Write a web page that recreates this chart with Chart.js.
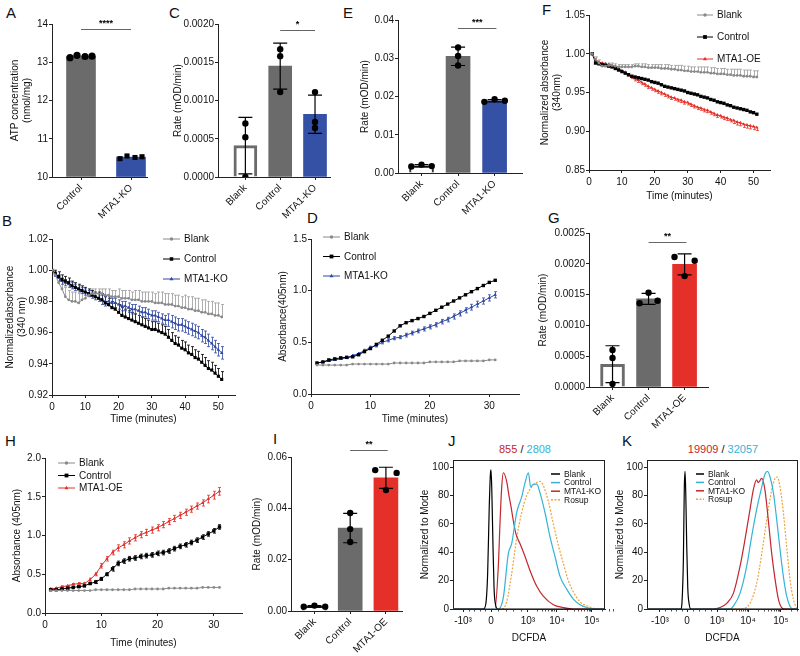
<!DOCTYPE html>
<html>
<head>
<meta charset="utf-8">
<script src="https://cdn.jsdelivr.net/npm/chart.js@4.4.1/dist/chart.umd.min.js"></script>
<style>
  body { margin:0; width:800px; height:656px; position:relative; overflow:hidden; background:#fff; font-family:"Liberation Sans", Arial, sans-serif; }
  canvas { position:absolute; }
  .tag { position:absolute; font-size:15px; line-height:15px; color:#111; }
  .ttl { position:absolute; font-size:11px; line-height:12px; width:160px; text-align:center; color:#111; }
</style>
</head>
<body>
<div class="tag" style="left:6px;top:5px">A</div>
<div class="tag" style="left:169px;top:5px">C</div>
<div class="tag" style="left:343px;top:5px">E</div>
<div class="tag" style="left:542px;top:2px">F</div>
<div class="tag" style="left:2px;top:213px">B</div>
<div class="tag" style="left:307px;top:210px">D</div>
<div class="tag" style="left:548px;top:210px">G</div>
<div class="tag" style="left:5px;top:433px">H</div>
<div class="tag" style="left:273px;top:431px">I</div>
<div class="tag" style="left:448px;top:433px">J</div>
<div class="tag" style="left:622px;top:433px">K</div>
<div class="ttl" style="left:445px;top:443px"><span style="color:#c1272d">855</span> / <span style="color:#34b3d6">2808</span></div>
<div class="ttl" style="left:643px;top:443px"><span style="color:#c1272d">19909</span> / <span style="color:#34b3d6">32057</span></div>
<script>
// ---- data ----
// A: ATP concentration
const catsA = ['Control', 'MTA1-KO'];
const meanA = [13.15, 10.52];
const dotsA = [[13.12, 13.18, 13.15, 13.16], [10.48, 10.55, 10.51, 10.53]];

// C: rate, KO
const catsC = ['Blank', 'Control', 'MTA1-KO'];
const meanC = [0.00041, 0.00145, 0.00082];
const sdC = [0.00037, 0.0003, 0.00025];
const dotsC = [[0.0007, 0.00052, 0.0], [0.00167, 0.00158, 0.00111], [0.00111, 0.00072, 0.00064]];

// E: rate, KO
const meanE = [0.0019, 0.0305, 0.0189];
const sdE = [0.0003, 0.0024, 0.0003];
const dotsE = [[0.0017, 0.0022, 0.0018], [0.0328, 0.0306, 0.0281], [0.0186, 0.0193, 0.0189]];

// G: rate, OE
const catsG = ['Blank', 'Control', 'MTA1-OE'];
const meanG = [0.00037, 0.00143, 0.00199];
const sdG = [0.0003, 0.00009, 0.00017];
const dotsG = [[0.0006, 0.00047, 0.00005], [0.00136, 0.00153, 0.0014], [0.00211, 0.0018, 0.00205]];

// I: rate, OE
const meanI = [0.0018, 0.0323, 0.0519];
const sdI = [0.0003, 0.0057, 0.0041];
const dotsI = [[0.0017, 0.0021, 0.0017], [0.0382, 0.0319, 0.0269], [0.0549, 0.0471, 0.0538]];

// B: normalized absorbance 340 nm, KO (t = 0..51)
const timeB = [0,1,2,3,4,5,6,7,8,9,10,11,12,13,14,15,16,17,18,19,20,21,22,23,24,25,26,27,28,29,30,31,32,33,34,35,36,37,38,39,40,41,42,43,44,45,46,47,48,49,50,51];
const blankB = [1.000,0.997,0.992,0.988,0.983,0.981,0.980,0.980,0.979,0.981,
  0.982,0.984,0.985,0.985,0.985,0.985,0.984,0.984,0.983,0.983,
  0.983,0.982,0.982,0.982,0.981,0.981,0.981,0.980,0.980,0.980,
  0.980,0.979,0.979,0.979,0.978,0.978,0.978,0.977,0.977,0.976,
  0.976,0.975,0.975,0.974,0.974,0.973,0.973,0.972,0.972,0.971,
  0.971,0.970];
const blankErrB = [0,0.002,0.004,0.005,0.006,0.006,0.006,0.006,0.006,0.005,
  0.004,0.003,0.003,0.003,0.003,0.003,0.004,0.004,0.004,0.004,
  0.005,0.005,0.005,0.005,0.005,0.006,0.006,0.006,0.006,0.006,
  0.006,0.006,0.007,0.007,0.007,0.007,0.007,0.007,0.007,0.007,
  0.008,0.008,0.008,0.008,0.008,0.008,0.008,0.008,0.008,0.008,
  0.008,0.008];
const ctrlB = [1.000,0.998,0.996,0.994,0.993,0.992,0.990,0.989,0.988,0.987,
  0.986,0.985,0.984,0.983,0.982,0.981,0.979,0.978,0.976,0.975,
  0.973,0.971,0.970,0.969,0.968,0.967,0.966,0.965,0.964,0.963,
  0.962,0.962,0.961,0.960,0.959,0.957,0.955,0.953,0.952,0.950,
  0.949,0.947,0.946,0.944,0.943,0.941,0.939,0.937,0.936,0.934,
  0.932,0.930];
const ctrlErrB = [0,0.002,0.003,0.003,0.003,0.003,0.003,0.003,0.003,0.003,
  0.003,0.003,0.003,0.003,0.004,0.004,0.004,0.004,0.004,0.004,
  0.005,0.005,0.005,0.005,0.005,0.005,0.005,0.005,0.005,0.005,
  0.005,0.005,0.005,0.005,0.005,0.005,0.005,0.005,0.005,0.005,
  0.005,0.005,0.005,0.005,0.005,0.005,0.005,0.005,0.005,0.005,
  0.005,0.005];
const koB = [1.000,0.997,0.995,0.993,0.992,0.991,0.990,0.989,0.988,0.987,
  0.986,0.985,0.984,0.983,0.982,0.981,0.980,0.980,0.979,0.979,
  0.978,0.977,0.977,0.976,0.975,0.975,0.974,0.973,0.973,0.972,
  0.971,0.971,0.970,0.969,0.968,0.968,0.967,0.966,0.965,0.965,
  0.964,0.963,0.962,0.961,0.960,0.958,0.957,0.955,0.953,0.951,
  0.949,0.947];
const koErrB = [0,0.001,0.002,0.002,0.002,0.002,0.002,0.002,0.002,0.002,
  0.002,0.002,0.002,0.002,0.002,0.003,0.003,0.003,0.003,0.003,
  0.003,0.003,0.003,0.003,0.003,0.003,0.003,0.003,0.003,0.003,
  0.003,0.003,0.003,0.003,0.003,0.004,0.004,0.004,0.004,0.004,
  0.004,0.004,0.004,0.004,0.004,0.004,0.004,0.004,0.004,0.004,
  0.004,0.004];

// F: normalized absorbance 340 nm, OE (t = 1..51)
const timeF = [1,2,3,4,5,6,7,8,9,10,11,12,13,14,15,16,17,18,19,20,21,22,23,24,25,26,27,28,29,30,31,32,33,34,35,36,37,38,39,40,41,42,43,44,45,46,47,48,49,50,51];
const blankF = [1.000,0.993,0.988,0.984,0.984,0.985,0.985,0.984,0.983,0.983,
  0.983,0.983,0.983,0.984,0.984,0.983,0.983,0.982,0.982,0.982,
  0.982,0.981,0.981,0.981,0.980,0.980,0.979,0.979,0.978,0.978,
  0.977,0.977,0.977,0.976,0.976,0.976,0.975,0.975,0.974,0.974,
  0.974,0.973,0.973,0.972,0.972,0.972,0.971,0.971,0.971,0.970,
  0.970];
const blankErrF = [0,0.003,0.004,0.004,0.004,0.003,0.003,0.003,0.003,0.003,
  0.003,0.003,0.003,0.003,0.003,0.004,0.004,0.004,0.004,0.004,
  0.004,0.005,0.005,0.005,0.005,0.005,0.006,0.006,0.006,0.006,
  0.006,0.006,0.006,0.007,0.007,0.007,0.007,0.007,0.007,0.007,
  0.007,0.007,0.007,0.008,0.008,0.008,0.008,0.008,0.008,0.008,
  0.008];
const ctrlF = [1.000,0.988,0.987,0.986,0.985,0.984,0.983,0.981,0.979,0.977,
  0.975,0.973,0.971,0.970,0.969,0.968,0.967,0.966,0.964,0.963,
  0.962,0.960,0.958,0.957,0.956,0.955,0.954,0.953,0.952,0.950,
  0.949,0.948,0.947,0.945,0.944,0.943,0.941,0.940,0.938,0.937,
  0.936,0.934,0.933,0.931,0.930,0.929,0.928,0.927,0.925,0.924,
  0.922];
const oeF = [1.000,0.992,0.989,0.988,0.987,0.986,0.985,0.983,0.981,0.978,
  0.976,0.973,0.970,0.968,0.966,0.963,0.961,0.958,0.956,0.954,
  0.952,0.950,0.948,0.946,0.944,0.943,0.941,0.940,0.938,0.937,
  0.935,0.933,0.931,0.930,0.928,0.927,0.925,0.923,0.921,0.920,
  0.918,0.917,0.915,0.914,0.912,0.911,0.909,0.908,0.907,0.906,
  0.905];
const oeErrF = [0,0.001,0.001,0.001,0.002,0.002,0.002,0.002,0.002,0.002,
  0.002,0.002,0.002,0.003,0.003,0.003,0.003,0.003,0.003,0.003,
  0.003,0.003,0.003,0.003,0.003,0.003,0.003,0.003,0.003,0.003,
  0.003,0.003,0.003,0.003,0.003,0.003,0.003,0.003,0.003,0.003,
  0.003,0.003,0.003,0.004,0.004,0.004,0.004,0.004,0.004,0.004,
  0.004];

// D: absorbance 405 nm, KO (t = 1..31)
const timeD = [1,2,3,4,5,6,7,8,9,10,11,12,13,14,15,16,17,18,19,20,21,22,23,24,25,26,27,28,29,30,31];
const blankD = [0.28,0.28,0.28,0.28,0.28,0.28,0.29,0.29,0.29,0.29,
  0.29,0.29,0.29,0.30,0.30,0.30,0.30,0.30,0.30,0.31,
  0.31,0.31,0.31,0.31,0.32,0.32,0.32,0.32,0.32,0.33,0.33];
const ctrlD = [0.30,0.31,0.33,0.34,0.35,0.355,0.36,0.38,0.41,0.44,
  0.48,0.52,0.56,0.61,0.66,0.69,0.71,0.73,0.75,0.78,
  0.81,0.84,0.87,0.90,0.93,0.96,0.99,1.02,1.05,1.08,1.10];
const koD = [0.30,0.31,0.32,0.33,0.34,0.35,0.37,0.39,0.42,0.45,
  0.47,0.50,0.52,0.54,0.55,0.57,0.59,0.61,0.63,0.65,
  0.67,0.70,0.72,0.75,0.78,0.81,0.84,0.87,0.90,0.93,0.96];
const koErrD = [0.005,0.005,0.005,0.005,0.005,0.008,0.01,0.01,0.012,0.012,
  0.015,0.015,0.015,0.015,0.015,0.018,0.018,0.018,0.02,0.02,
  0.02,0.022,0.022,0.025,0.025,0.025,0.028,0.028,0.03,0.03,0.03];

// H: absorbance 405 nm, OE (t = 1..31)
const timeH = timeD;
const blankH = [0.29,0.29,0.29,0.29,0.29,0.29,0.29,0.29,0.30,0.30,
  0.30,0.30,0.30,0.30,0.30,0.31,0.31,0.31,0.31,0.31,
  0.31,0.32,0.32,0.32,0.32,0.32,0.32,0.33,0.33,0.33,0.33];
const ctrlH = [0.30,0.30,0.31,0.32,0.33,0.34,0.35,0.38,0.40,0.44,
  0.50,0.57,0.64,0.67,0.70,0.71,0.73,0.74,0.75,0.77,
  0.78,0.80,0.83,0.86,0.88,0.91,0.94,0.98,1.02,1.06,1.11];
const ctrlErrH = [0.01,0.01,0.01,0.01,0.01,0.01,0.01,0.01,0.02,0.02,
  0.02,0.03,0.03,0.03,0.03,0.03,0.03,0.03,0.03,0.03,
  0.03,0.03,0.03,0.03,0.03,0.03,0.03,0.03,0.03,0.03,0.03];
const oeH = [0.31,0.32,0.34,0.35,0.37,0.38,0.38,0.43,0.50,0.61,
  0.70,0.78,0.84,0.88,0.93,0.97,1.01,1.04,1.07,1.10,
  1.14,1.18,1.22,1.26,1.30,1.34,1.38,1.42,1.47,1.52,1.57];
const oeErrH = [0.01,0.01,0.01,0.01,0.01,0.01,0.01,0.02,0.02,0.03,
  0.03,0.03,0.04,0.04,0.04,0.04,0.04,0.04,0.04,0.04,
  0.04,0.04,0.04,0.04,0.04,0.04,0.04,0.04,0.05,0.05,0.05];

// J / K: DCFDA histograms (x in display channel units 0..1000)
const tickLab = ['-10\u00B3', '0', '10\u00B3', '10\u2074', '10\u2075'];
const tickPosJ = [66, 250, 493, 684, 914];
const tickPosK = [86, 265, 464, 669, 887];
const jBlankX = [0,200,215,228,238,246,250,255,262,270,280,295,1000];
const jBlankY = [0,0,3,25,70,95,98,85,50,15,3,0,0];
const jKoX = [0,270,276,298,309,320,331,353,368,382,397,414,441,474,507,551,594,660,726,790,1000];
const jKoY = [0,0,0,30,60,85,96,90,80,72,62,53,46,37,27,16,9,3,1,0,0];
const jCtrlX = [0,298,331,364,386,419,452,474,496,511,529,551,572,605,638,671,704,748,792,836,880,923,1000];
const jCtrlY = [0,0,8,39,46,68,79,89,96,86,88,88,82,68,51,37,23,14,7,3,1,0,0];
const jRosX = [0,320,353,386,419,452,485,518,551,572,594,627,660,693,726,759,792,836,890,945,1000];
const jRosY = [0,0,5,25,50,68,80,86,89,90,87,76,60,45,32,20,12,5,2,0,0];
const kBlankX = [0,225,232,241,247,252,257,263,270,280,290,1000];
const kBlankY = [0,0,5,35,85,97,80,45,15,3,0,0];
const kKoX = [0,439,483,528,572,616,649,682,704,726,737,760,781,803,826,848,870,892,914,1000];
const kKoY = [0,0,1,4,11,30,49,70,84,91,89,92,84,63,39,21,7,1,0,0];
const kCtrlX = [0,550,572,616,660,693,726,760,781,799,815,837,859,881,903,925,947,969,1000];
const kCtrlY = [0,0,2,11,30,51,70,86,95,97,93,82,63,42,23,9,2,0,0];
const kRosX = [0,616,682,726,760,793,826,848,863,881,903,925,947,969,991,1000];
const kRosY = [0,0,4,18,39,63,84,92,93,86,68,44,21,7,1,0];

// ---- styling ----
const TXT = '#111', AX = '#222';
const GRAY = '#6b6b6b', BLUE = '#3451a6', RED = '#e5302a';
const LGRAY = '#8a8a8a', LBLUE = '#2f48a4', LRED = '#e0302a';
const HRED = '#c1272d', HCYAN = '#34b3d6', HORG = '#f0a23a';
const FONT = '"Liberation Sans", Arial, sans-serif';

Chart.defaults.font.family = FONT;
Chart.defaults.font.size = 10;
Chart.defaults.color = TXT;
Chart.defaults.animation = false;
Chart.defaults.responsive = false;
Chart.defaults.devicePixelRatio = 1;
Chart.defaults.plugins.legend.display = false;
Chart.defaults.plugins.tooltip.enabled = false;

const EXTRA = new WeakMap();

function marker(ctx, style, x, y, r, col) {
  ctx.fillStyle = col;
  ctx.beginPath();
  if (style === 'rect') ctx.rect(x - r * 0.707, y - r * 0.707, r * 1.414, r * 1.414);
  else if (style === 'triangle') {
    ctx.moveTo(x, y - r); ctx.lineTo(x + r * 0.866, y + r / 2); ctx.lineTo(x - r * 0.866, y + r / 2); ctx.closePath();
  } else ctx.arc(x, y, r, 0, Math.PI * 2);
  ctx.fill();
}

function drawBarErr(chart, b) {
  const {ctx, scales: {x, y}} = chart;
  ctx.save();
  ctx.strokeStyle = '#000';
  ctx.lineWidth = 1.2;
  b.mean.forEach((m, i) => {
    const px = x.getPixelForValue(i + 1);
    const top = y.getPixelForValue(m + b.sd[i]);
    const bot = y.getPixelForValue(Math.max(m - b.sd[i], y.min));
    ctx.beginPath();
    ctx.moveTo(px, top); ctx.lineTo(px, bot);
    ctx.moveTo(px - 7, top); ctx.lineTo(px + 7, top);
    ctx.moveTo(px - 7, bot); ctx.lineTo(px + 7, bot);
    ctx.stroke();
  });
  ctx.restore();
}

function drawLineErr(chart, list) {
  const {ctx, scales: {x, y}} = chart;
  const t = chart.data.labels;
  list.forEach(s => {
    ctx.save();
    ctx.strokeStyle = s.c;
    ctx.lineWidth = 0.8;
    ctx.beginPath();
    s.v.forEach((v, i) => {
      const e = s.err[i];
      if (!e) return;
      const px = Math.round(x.getPixelForValue(t[i])) + 0.5;
      const hi = y.getPixelForValue(s.dir === 'down' ? v : v + e);
      const lo = y.getPixelForValue(s.dir === 'up' ? v : v - e);
      ctx.moveTo(px, hi); ctx.lineTo(px, lo);
      if (s.dir !== 'down') { ctx.moveTo(px - 1.5, hi); ctx.lineTo(px + 1.5, hi); }
      if (s.dir !== 'up') { ctx.moveTo(px - 1.5, lo); ctx.lineTo(px + 1.5, lo); }
    });
    ctx.stroke();
    ctx.restore();
  });
}

Chart.register({
  id: 'deco',
  beforeDatasetsDraw(chart) {
    const e = EXTRA.get(chart.canvas);
    if (e && e.lineErr) drawLineErr(chart, e.lineErr);
  },
  afterDatasetDraw(chart, args) {
    const e = EXTRA.get(chart.canvas);
    if (e && e.bar && args.index === 0) drawBarErr(chart, e.bar);
  },
  afterDraw(chart) {
    const e = EXTRA.get(chart.canvas);
    if (!e) return;
    const {ctx, chartArea: ca, scales: {x, y}} = chart;
    ctx.save();
    if (e.sig) {
      const a = x.getPixelForValue(e.sig.x1), b = x.getPixelForValue(e.sig.x2);
      const py = Math.round(y.getPixelForValue(e.sig.y)) + 0.5;
      ctx.strokeStyle = '#666'; ctx.lineWidth = 1.2;
      ctx.beginPath(); ctx.moveTo(a, py); ctx.lineTo(b, py); ctx.stroke();
      ctx.fillStyle = '#000'; ctx.font = 'bold 9px ' + FONT;
      ctx.textAlign = 'center'; ctx.textBaseline = 'alphabetic';
      ctx.fillText(e.sig.text, (a + b) / 2, py - 4);
    }
    if (e.box) {
      ctx.strokeStyle = AX; ctx.lineWidth = 1;
      ctx.beginPath();
      ctx.moveTo(ca.left, Math.round(ca.top) + 0.5); ctx.lineTo(ca.right, Math.round(ca.top) + 0.5);
      ctx.moveTo(Math.round(ca.right) - 0.5, ca.top); ctx.lineTo(Math.round(ca.right) - 0.5, ca.bottom);
      ctx.stroke();
    }
    if (e.minor) {
      ctx.strokeStyle = AX; ctx.lineWidth = 0.8;
      ctx.beginPath();
      e.minor.forEach(v => {
        const px = Math.round(x.getPixelForValue(v)) + 0.5;
        ctx.moveTo(px, ca.bottom); ctx.lineTo(px, ca.bottom + 2.5);
      });
      ctx.stroke();
    }
    if (e.legend) {
      const L = e.legend;
      ctx.font = L.size + 'px ' + FONT;
      ctx.textBaseline = 'middle'; ctx.textAlign = 'left';
      L.items.forEach((it, i) => {
        const yy = L.y + i * L.dy - e.oy, x0 = L.x - e.ox;
        ctx.strokeStyle = it.c; ctx.lineWidth = it.w || 1;
        ctx.setLineDash(it.dash || []);
        ctx.beginPath(); ctx.moveTo(x0, yy); ctx.lineTo(x0 + L.len, yy); ctx.stroke();
        ctx.setLineDash([]);
        if (it.ps) marker(ctx, it.ps, x0 + L.len / 2, yy, it.r, it.c);
        ctx.fillStyle = TXT;
        ctx.fillText(it.label, x0 + L.len + 4, yy + 0.5);
      });
    }
    ctx.restore();
  }
});

function makeChart(box, plot, cfg, extra) {
  const [x0, y0, x1, y1] = box, [pl, pt, pr, pb] = plot;
  const cv = document.createElement('canvas');
  cv.width = x1 - x0; cv.height = y1 - y0;
  cv.style.left = x0 + 'px'; cv.style.top = y0 + 'px';
  document.body.appendChild(cv);
  EXTRA.set(cv, Object.assign({ox: x0, oy: y0}, extra || {}));
  cfg.options.layout = {padding: {top: pt - y0, right: x1 - pr, left: 0, bottom: 0}};
  cfg.options.scales.x.afterFit = s => { s.height = y1 - pb; };
  cfg.options.scales.y.afterFit = s => { s.width = pl - x0; };
  return new Chart(cv, cfg);
}

function axisBase() {
  return {
    offset: false,
    grid: {drawOnChartArea: false, drawTicks: true, tickLength: 3, color: AX, offset: false},
    border: {display: true, color: AX, width: 1}
  };
}

function yAxis(min, max, step, dec, title) {
  return Object.assign(axisBase(), {
    type: 'linear', min: min, max: max,
    ticks: {stepSize: step, includeBounds: false, padding: 1, color: TXT, font: {size: 10},
            callback: v => v.toFixed(dec)},
    title: {display: true, text: title, padding: 0, color: TXT, font: {size: 10}}
  });
}

function timeAxis(max) {
  return Object.assign(axisBase(), {
    type: 'linear', min: 0, max: max,
    ticks: {stepSize: 10, includeBounds: false, padding: 3, color: TXT, font: {size: 10}},
    title: {display: true, text: 'Time (minutes)', padding: 0, color: TXT, font: {size: 10}}
  });
}

function catAxis(cats, lo, hi) {
  return Object.assign(axisBase(), {
    type: 'linear', min: lo, max: hi,
    afterBuildTicks: s => { s.ticks = cats.map((c, i) => ({value: i + 1})); },
    ticks: {autoSkip: false, minRotation: 45, maxRotation: 45, padding: 2, color: TXT, font: {size: 10},
            callback: v => cats[v - 1]}
  });
}

function barChart(box, plot, o) {
  const pts = [];
  o.dots.forEach((arr, i) => arr.forEach((v, j) => pts.push({x: i + 1 + o.jit[i][j], y: v})));
  const cfg = {
    type: 'bar',
    data: {
      datasets: [
        {type: 'bar', data: o.mean.map((v, i) => ({x: i + 1, y: v})), base: o.y[0],
         backgroundColor: o.fill, borderColor: o.edge, borderWidth: o.bw, borderSkipped: 'start',
         barThickness: o.barW, order: 2},
        {type: 'scatter', data: pts, pointStyle: o.shape || 'circle', pointRadius: o.r,
         pointBackgroundColor: '#000', pointBorderWidth: 0, backgroundColor: '#000', order: 1}
      ]
    },
    options: {
      scales: {
        x: catAxis(o.cats, o.xr[0], o.xr[1]),
        y: yAxis(o.y[0], o.y[1], o.y[2], o.y[3], o.title)
      }
    }
  };
  return makeChart(box, plot, cfg, {bar: o.sd ? {mean: o.mean, sd: o.sd} : null, sig: o.sig});
}

function lineChart(box, plot, o) {
  const cfg = {
    type: 'line',
    data: {
      labels: o.t,
      datasets: o.series.map(s => ({
        data: s.v, borderColor: s.c, backgroundColor: s.c, borderWidth: 1,
        pointStyle: s.ps, pointRadius: s.r, pointBorderWidth: 0, pointBackgroundColor: s.c, tension: 0
      }))
    },
    options: {scales: {x: timeAxis(o.xmax), y: yAxis(o.y[0], o.y[1], o.y[2], o.y[3], o.title)}}
  };
  return makeChart(box, plot, cfg, {
    lineErr: o.series.filter(s => s.err).map(s => ({v: s.v, err: s.err, dir: s.dir, c: s.ec || s.c})),
    legend: {x: o.leg[0], y: o.leg[1], dy: o.leg[2], len: o.leg[3], size: 10,
             items: o.series.map(s => ({label: s.label, c: s.c, ps: s.ps, r: s.r + 0.3}))}
  });
}

function minorTicks(p) {
  const m = [];
  for (let k = 1; k < 5; k++) m.push(p[0] + (p[1] - p[0]) * k / 5);
  for (let k = 1; k < 5; k++) m.push(p[1] + (p[2] - p[1]) * k / 5);
  for (let d = 2; d < 4; d++) for (let k = 2; k < 10; k++) m.push(p[d] + Math.log10(k) * (p[d + 1] - p[d]));
  for (let k = 2; k < 5; k++) m.push(p[4] + Math.log10(k) * (p[4] - p[3]));
  return m;
}

function histChart(box, plot, o) {
  const cfg = {
    type: 'line',
    data: {
      datasets: o.curves.map(c => ({
        data: c.x.map((v, i) => ({x: v, y: c.y[i]})), borderColor: c.c, borderWidth: 1.2,
        borderDash: c.dash || [], pointRadius: 0, cubicInterpolationMode: 'monotone', fill: false
      }))
    },
    options: {
      scales: {
        x: Object.assign(axisBase(), {
          type: 'linear', min: 0, max: 1000,
          afterBuildTicks: s => { s.ticks = o.tickPos.map(v => ({value: v})); },
          ticks: {autoSkip: false, padding: 3, color: TXT, font: {size: 10},
                  callback: (v, i) => tickLab[i]},
          title: {display: true, text: 'DCFDA', padding: 0, color: TXT, font: {size: 10}}
        }),
        y: yAxis(0, 105, 20, 0, 'Normalized to Mode')
      }
    }
  };
  return makeChart(box, plot, cfg, {
    box: true, minor: minorTicks(o.tickPos),
    legend: {x: o.leg[0], y: o.leg[1], dy: o.leg[2], len: o.leg[3], size: 8.5,
             items: o.curves.map(c => ({label: c.label, c: c.c, dash: c.dash, w: 1.5}))}
  });
}

// ---- panels ----
barChart([9, 0, 165, 240], [52, 24, 147, 177], {
  cats: catsA, mean: meanA, dots: dotsA, jit: [[-0.22, -0.08, 0.08, 0.22], [-0.22, -0.08, 0.08, 0.22]],
  fill: [GRAY, BLUE], edge: [GRAY, BLUE], bw: 0, barW: 29, shape: ['circle', 'circle', 'circle', 'circle', 'rect', 'rect', 'rect', 'rect'],
  r: 3.6, xr: [0.42, 2.32], y: [10, 14, 1, 0], title: ['ATP concentration', '(nmol/mg)'],
  sig: {x1: 1, x2: 2, y: 13.87, text: '****'}
});

barChart([172, 0, 340, 240], [218, 24, 330, 177], {
  cats: catsC, mean: meanC, sd: sdC, dots: dotsC, jit: [[0, 0, 0], [0, 0, 0], [0, 0, 0]],
  fill: ['#fff', GRAY, BLUE], edge: [GRAY, GRAY, BLUE], bw: [3, 0, 0], barW: 23,
  r: 3.2, xr: [0.214, 3.43], y: [0, 0.002, 0.0005, 4], title: 'Rate (mOD/min)',
  sig: {x1: 2, x2: 3, y: 0.00192, text: '*'}
});

barChart([359, 0, 535, 240], [398, 20, 522, 173], {
  cats: catsC, mean: meanE, sd: sdE, dots: dotsE, jit: [[-0.28, 0, 0.28], [0, 0, 0], [-0.28, 0, 0.28]],
  fill: ['#fff', GRAY, BLUE], edge: ['#333', GRAY, BLUE], bw: [2, 0, 0], barW: 24,
  r: 3.2, xr: [0.356, 3.75], y: [0, 0.04, 0.01, 2], title: 'Rate (mOD/min)',
  sig: {x1: 2, x2: 3.05, y: 0.0379, text: '***'}
});

barChart([537, 215, 730, 450], [589, 233, 708, 387], {
  cats: catsG, mean: meanG, sd: sdG, dots: dotsG, jit: [[0, 0, 0], [-0.25, 0, 0.25], [-0.28, 0, 0.28]],
  fill: ['#fff', GRAY, RED], edge: [GRAY, GRAY, RED], bw: [3, 0, 0], barW: 24,
  r: 3.2, xr: [0.347, 3.65], y: [0, 0.0025, 0.0005, 4], title: 'Rate (mOD/min)',
  sig: {x1: 2, x2: 3.05, y: 0.00235, text: '**'}
});

barChart([251, 440, 420, 656], [291, 457, 402, 611], {
  cats: catsG, mean: meanI, sd: sdI, dots: dotsI, jit: [[-0.3, 0, 0.3], [0, 0, 0], [-0.3, 0, 0.3]],
  fill: ['#fff', GRAY, RED], edge: ['#333', GRAY, RED], bw: [2, 0, 0], barW: 24,
  r: 3.2, xr: [0.343, 3.45], y: [0, 0.06, 0.02, 2], title: 'Rate (mOD/min)',
  sig: {x1: 2, x2: 3.05, y: 0.0627, text: '**'}
});

lineChart([4, 225, 260, 425], [52, 239, 235, 395], {
  t: timeB, xmax: 55, y: [0.92, 1.02, 0.02, 2], title: ['Normalizedabsorbance', '(340 nm)'],
  leg: [163, 239, 20, 17],
  series: [
    {label: 'Blank', v: blankB, err: blankErrB, dir: 'up', c: LGRAY, ec: '#9a9a9a', ps: 'circle', r: 1.4},
    {label: 'Control', v: ctrlB, err: ctrlErrB, dir: 'up', c: '#000', ps: 'rect', r: 2.2},
    {label: 'MTA1-KO', v: koB, err: koErrB, dir: 'both', c: LBLUE, ps: 'triangle', r: 2}
  ]
});

lineChart([277, 225, 535, 425], [311, 239, 519, 394], {
  t: timeD, xmax: 35, y: [0, 1.5, 0.5, 1], title: 'Absorbance(405nm)',
  leg: [323, 237, 19.5, 17],
  series: [
    {label: 'Blank', v: blankD, c: LGRAY, ps: 'circle', r: 1.4},
    {label: 'Control', v: ctrlD, c: '#000', ps: 'rect', r: 2.4},
    {label: 'MTA1-KO', v: koD, err: koErrD, dir: 'both', c: LBLUE, ps: 'triangle', r: 2}
  ]
});

lineChart([539, 0, 800, 202], [589, 15, 770, 170], {
  t: timeF, xmax: 55, y: [0.85, 1.05, 0.05, 2], title: ['Normalized absorbance', '(340nm)'],
  leg: [697, 15, 22, 16],
  series: [
    {label: 'Blank', v: blankF, err: blankErrF, dir: 'up', c: LGRAY, ec: '#9a9a9a', ps: 'circle', r: 1.4},
    {label: 'Control', v: ctrlF, c: '#000', ps: 'rect', r: 2.4},
    {label: 'MTA1-OE', v: oeF, err: oeErrF, dir: 'down', c: LRED, ps: 'triangle', r: 2}
  ]
});

lineChart([11, 440, 265, 649], [45, 458, 242, 613], {
  t: timeH, xmax: 35, y: [0, 2, 0.5, 1], title: 'Absorbance (405nm)',
  leg: [58, 463, 12.5, 17],
  series: [
    {label: 'Blank', v: blankH, c: LGRAY, ps: 'circle', r: 1.4},
    {label: 'Control', v: ctrlH, err: ctrlErrH, dir: 'both', c: '#000', ps: 'rect', r: 2.4},
    {label: 'MTA1-OE', v: oeH, err: oeErrH, dir: 'both', c: LRED, ps: 'triangle', r: 2}
  ]
});

histChart([419, 440, 615, 644], [453, 460, 605, 609], {
  tickPos: tickPosJ, leg: [551, 474, 8.6, 9],
  curves: [
    {label: 'Blank', x: jBlankX, y: jBlankY, c: '#000'},
    {label: 'Control', x: jCtrlX, y: jCtrlY, c: HCYAN},
    {label: 'MTA1-KO', x: jKoX, y: jKoY, c: HRED},
    {label: 'Rosup', x: jRosX, y: jRosY, c: HORG, dash: [2, 1.5]}
  ]
});

histChart([614, 440, 800, 644], [647, 460, 798, 609], {
  tickPos: tickPosK, leg: [696, 474, 8.4, 8],
  curves: [
    {label: 'Blank', x: kBlankX, y: kBlankY, c: '#000'},
    {label: 'Control', x: kCtrlX, y: kCtrlY, c: HCYAN},
    {label: 'MTA1-KO', x: kKoX, y: kKoY, c: HRED},
    {label: 'Rosup', x: kRosX, y: kRosY, c: HORG, dash: [2, 1.5]}
  ]
});
</script>
</body>
</html>
